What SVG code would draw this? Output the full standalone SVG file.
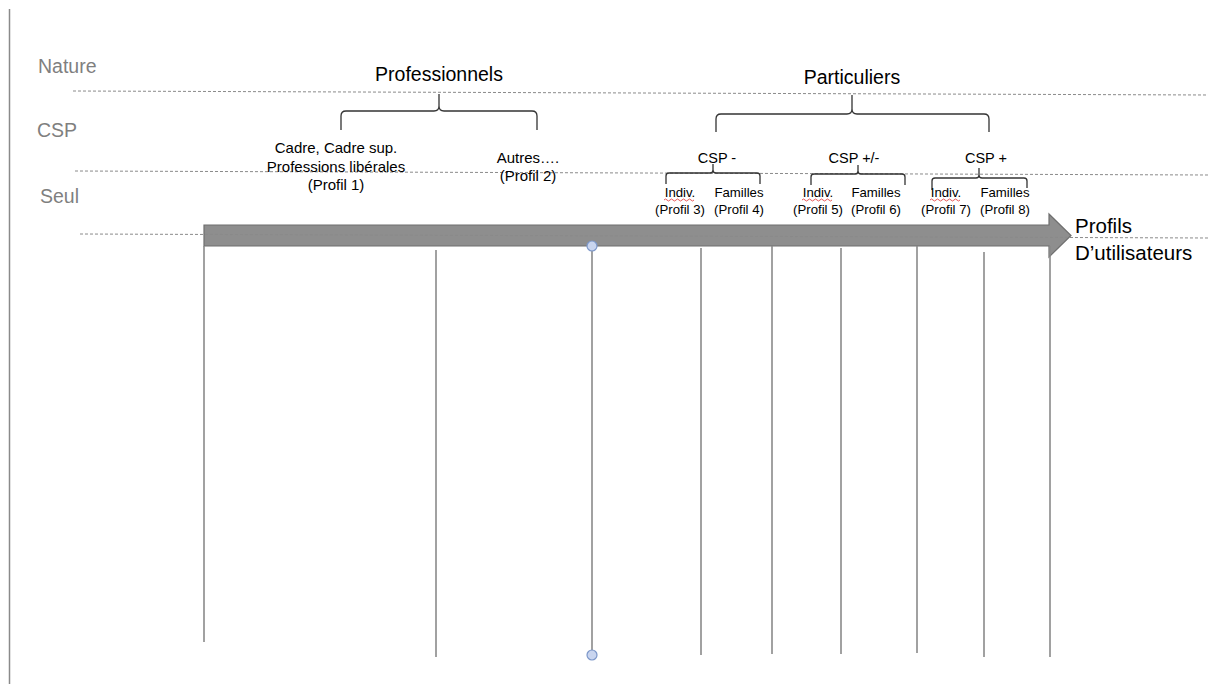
<svg xmlns="http://www.w3.org/2000/svg" width="1208" height="684" viewBox="0 0 1208 684">
<style>
.lvl{font-family:"Liberation Sans",Arial,sans-serif;font-size:19.5px;fill:#7f7f7f}
.big{font-family:"Liberation Sans",Arial,sans-serif;font-size:19.5px;fill:#000;text-anchor:middle}
.mid{font-family:"Liberation Sans",Arial,sans-serif;font-size:15px;fill:#000;text-anchor:middle}
.csp{font-family:"Liberation Sans",Arial,sans-serif;font-size:14.5px;fill:#000;text-anchor:middle}
.sm{font-family:"Liberation Sans",Arial,sans-serif;font-size:13.2px;fill:#000;text-anchor:middle}
.end{font-family:"Liberation Sans",Arial,sans-serif;font-size:20.5px;fill:#000}
.dash{stroke:#8a8a8a;stroke-width:1;stroke-dasharray:3 2;fill:none}
.vl{stroke:#8a8a8a;stroke-width:1.6;fill:none}
.brace{stroke:#333;stroke-width:1.3;fill:none}
.squig{stroke:#e03030;stroke-width:0.8;fill:none}
.handle{fill:#c9d5ef;stroke:#7c97c9;stroke-width:1.2}
</style>
<rect width="1208" height="684" fill="#fff"/>
<line x1="9.5" y1="9" x2="9.5" y2="684" stroke="#8a8a8a" stroke-width="1.5"/>

<g id="levels">
<text class="lvl" x="38" y="73">Nature</text>
<text class="lvl" x="37" y="137">CSP</text>
<text class="lvl" x="40" y="203">Seul</text>
</g>

<g id="arrow">
<path d="M204,225 H1049 V214 L1071,235.5 L1049,257 V246 H204 Z" fill="#8e8e8e" stroke="#6e6e6e" stroke-width="1.2"/>
</g>

<g id="connectors">
<line class="dash" x1="73" y1="91" x2="1208" y2="95"/>
<line class="dash" x1="75" y1="171" x2="1208" y2="175"/>
<line class="dash" x1="80" y1="234" x2="1208" y2="238"/>
<line class="vl" x1="204" y1="246" x2="204" y2="642"/>
<line class="vl" x1="436" y1="250" x2="436" y2="657"/>
<line class="vl" x1="592" y1="246" x2="592" y2="655"/>
<line class="vl" x1="701" y1="248" x2="701" y2="655"/>
<line class="vl" x1="772" y1="246" x2="772" y2="654"/>
<line class="vl" x1="841" y1="248" x2="841" y2="654"/>
<line class="vl" x1="917" y1="246" x2="917" y2="653"/>
<line class="vl" x1="984" y1="252" x2="984" y2="657"/>
<line class="vl" x1="1050" y1="246" x2="1050" y2="657"/>
<circle class="handle" cx="592" cy="246" r="5"/>
<circle class="handle" cx="592" cy="655" r="5"/>
<path class="brace" d="M341,130 V116 Q341,111 346,111 H434 Q439,111 439,106 V94 V106 Q439,111 444,111 H532 Q537,111 537,116 V130"/>
<path class="brace" d="M716,132 V119 Q716,114 721,114 H847 Q852,114 852,109 V95 V109 Q852,114 857,114 H984 Q989,114 989,119 V132"/>
<path class="brace" d="M666,184 V176 Q666,173 669,173 H710 Q713,173 713,170 V164 V170 Q713,173 716,173 H757 Q760,173 760,176 V184"/>
<path class="brace" d="M811,185 V177 Q811,174 814,174 H855 Q858,174 858,171 V165 V171 Q858,174 861,174 H902 Q905,174 905,177 V185"/>
<path class="brace" d="M932,190 V181 Q932,178 935,178 H976 Q979,178 979,175 V168 V175 Q979,178 982,178 H1024 Q1027,178 1027,181 V188"/>
</g>

<g id="professionnels"><text class="big" x="439" y="81">Professionnels</text></g>
<g id="particuliers"><text class="big" x="852" y="84">Particuliers</text></g>

<g id="profil1">
<text class="mid" x="336" y="153">Cadre, Cadre sup.</text>
<text class="mid" x="336" y="172">Professions libérales</text>
<text class="mid" x="336" y="190">(Profil 1)</text>
</g>
<g id="profil2">
<text class="mid" x="528" y="163">Autres….</text>
<text class="mid" x="528" y="181">(Profil 2)</text>
</g>

<g id="csp-moins"><text class="csp" x="717" y="163">CSP -</text></g>
<g id="csp-pm"><text class="csp" x="854" y="163">CSP +/-</text></g>
<g id="csp-plus"><text class="csp" x="986" y="163">CSP +</text></g>

<g id="profil3">
<text class="sm" x="680" y="197">Indiv.</text>
<text class="sm" x="680" y="214">(Profil 3)</text>
<path class="squig" d="M664,200 q1.5,-2 3,0 t3,0 t3,0 t3,0 t3,0 t3,0 t3,0 t3,0 t3,0 t3,0"/>
</g>
<g id="profil4">
<text class="sm" x="739" y="197">Familles</text>
<text class="sm" x="739" y="214">(Profil 4)</text>
</g>
<g id="profil5">
<text class="sm" x="818" y="197">Indiv.</text>
<text class="sm" x="818" y="214">(Profil 5)</text>
<path class="squig" d="M802,200 q1.5,-2 3,0 t3,0 t3,0 t3,0 t3,0 t3,0 t3,0 t3,0 t3,0 t3,0"/>
</g>
<g id="profil6">
<text class="sm" x="876" y="197">Familles</text>
<text class="sm" x="876" y="214">(Profil 6)</text>
</g>
<g id="profil7">
<text class="sm" x="946" y="197">Indiv.</text>
<text class="sm" x="946" y="214">(Profil 7)</text>
<path class="squig" d="M930,200 q1.5,-2 3,0 t3,0 t3,0 t3,0 t3,0 t3,0 t3,0 t3,0 t3,0 t3,0"/>
</g>
<g id="profil8">
<text class="sm" x="1005" y="197">Familles</text>
<text class="sm" x="1005" y="214">(Profil 8)</text>
</g>

<g id="profils-label">
<text class="end" x="1075" y="233">Profils</text>
<text class="end" x="1075" y="260">D’utilisateurs</text>
</g>
</svg>
